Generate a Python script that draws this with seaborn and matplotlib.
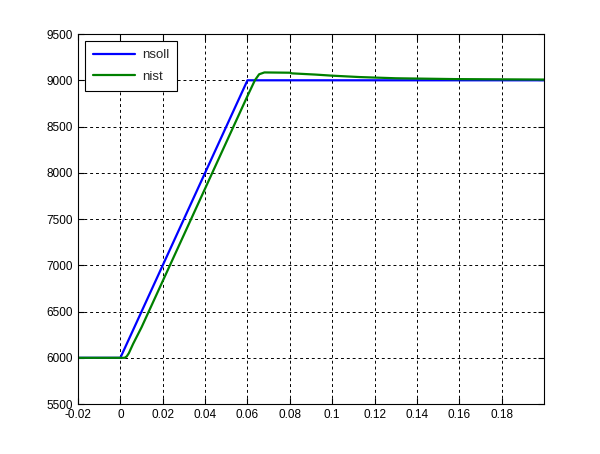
import numpy as np
import pandas as pd
import matplotlib
matplotlib.use("Agg")
import matplotlib.pyplot as plt
import seaborn as sns

t_soll = [-0.02, 0.0, 0.06, 0.2]
n_soll = [6000, 6000, 9000, 9000]

t_ist = [-0.02, 0.002, 0.003, 0.004, 0.006, 0.01, 0.02, 0.03, 0.04, 0.05, 0.06,
         0.0635, 0.0655, 0.068, 0.08, 0.081, 0.092, 0.1, 0.113, 0.13, 0.158, 0.2]
n_ist = [6000, 6000, 6015, 6050, 6150, 6330, 6830, 7330, 7830, 8330, 8830,
         9000, 9065, 9085, 9082, 9075, 9062, 9050, 9035, 9022, 9013, 9008]

xticks = [-0.02, 0, 0.02, 0.04, 0.06, 0.08, 0.1, 0.12, 0.14, 0.16, 0.18]
xtick_labels = ["-0.02", "0", "0.02", "0.04", "0.06", "0.08", "0.1", "0.12", "0.14", "0.16", "0.18"]
yticks = [5500, 6000, 6500, 7000, 7500, 8000, 8500, 9000, 9500]

sns.set_style("white")
plt.rcParams["font.family"] = ["Liberation Sans", "DejaVu Sans"]

df_soll = pd.DataFrame({"t": t_soll, "n": n_soll})
df_ist = pd.DataFrame({"t": t_ist, "n": n_ist})

fig = plt.figure(figsize=(6, 4.54), dpi=100)
ax = fig.add_axes([0.13, 0.11, 0.7767, 0.815])

sns.lineplot(data=df_soll, x="t", y="n", color=(0, 0, 1), linewidth=1.6,
             label="nsoll", ax=ax, sort=False, estimator=None)
sns.lineplot(data=df_ist, x="t", y="n", color=(0, 0.5, 0), linewidth=1.6,
             label="nist", ax=ax, sort=False, estimator=None)

ax.set_xlim(-0.02, 0.2)
ax.set_ylim(5500, 9500)
ax.set_xticks(xticks)
ax.set_xticklabels(xtick_labels)
ax.set_yticks(yticks)
ax.set_xlabel("")
ax.set_ylabel("")
ax.grid(True, color="black", linestyle=(0, (3, 3)), linewidth=0.7)
ax.tick_params(direction="in", length=4, labelsize=8.5, top=True, right=True,
               bottom=True, left=True, colors="black")
for s in ax.spines.values():
    s.set_color("black")
    s.set_linewidth(0.8)

leg = ax.legend(loc="upper left", fontsize=9.5, fancybox=False, framealpha=1,
                edgecolor="black", borderaxespad=0.55, handlelength=3.2,
                labelspacing=0.7, borderpad=0.6, handletextpad=0.5)
leg.get_frame().set_linewidth(0.8)

fig.savefig("out.png", dpi=100)
